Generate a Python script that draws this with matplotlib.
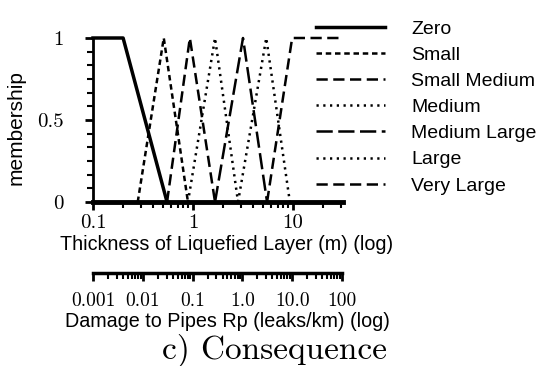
import numpy as np
import matplotlib
matplotlib.use('Agg')
import matplotlib.pyplot as plt
from matplotlib.ticker import FixedLocator, FixedFormatter, LogLocator, MultipleLocator, NullFormatter

# membership function breakpoints (thickness in m)
zero_x = [0.1, 0.2, 0.55]
zero_y = [1, 1, 0]
small_x = [0.28, 0.51, 0.89]
small_med_x = [0.55, 0.93, 1.66]
medium_x = [0.89, 1.66, 2.82]
med_large_x = [1.66, 3.16, 5.5]
large_x = [2.82, 5.4, 9.3]
very_large_x = [5.5, 9.8, 31.6]
tri_y = [0, 1, 0]
ramp_y = [0, 1, 1]

labels = ['Zero', 'Small', 'Small Medium', 'Medium', 'Medium Large', 'Large', 'Very Large']
top_ticks = [0.1, 1, 10]
top_ticklabels = ['0.1', '1', '10']
rp_ticks = [0.001, 0.01, 0.1, 1, 10, 100]
rp_ticklabels = ['0.001', '0.01', '0.1', '1.0', '10.0', '100']

serif = 'cmr10'
sans = 'Liberation Sans'

fig = plt.figure(figsize=(5.47, 3.66), dpi=100)
W, H = 547, 366

# --- main membership axes ---
ax = fig.add_axes([93 / W, 1 - 202 / H, 250 / W, 164 / H])
k = dict(color='black', clip_on=False)
ax.plot(zero_x, zero_y, lw=2.5, ls='-', label=labels[0], **k)
ax.plot(small_x, tri_y, lw=1.8, ls=(0, (2.2, 1.5)), label=labels[1], **k)
ax.plot(small_med_x, tri_y, lw=1.8, ls=(0, (4.5, 2.2)), label=labels[2], **k)
ax.plot(medium_x, tri_y, lw=1.8, ls=(0, (0.9, 1.8)), label=labels[3], **k)
ax.plot(med_large_x, tri_y, lw=1.8, ls=(0, (6.5, 2.2)), label=labels[4], **k)
ax.plot(large_x, tri_y, lw=1.8, ls=(0, (0.9, 1.8)), label=labels[5], **k)
ax.plot(very_large_x, ramp_y, lw=1.8, ls=(0, (4.5, 2.2)), label=labels[6], **k)

ax.set_xscale('log')
ax.set_xlim(0.1, 31.6)
ax.set_ylim(0, 1)
for s in ['top', 'right']:
    ax.spines[s].set_visible(False)
ax.spines['left'].set_linewidth(2)
ax.spines['bottom'].set_linewidth(3.5)

ax.xaxis.set_major_locator(FixedLocator(top_ticks))
ax.xaxis.set_major_formatter(FixedFormatter(top_ticklabels))
ax.xaxis.set_minor_locator(LogLocator(base=10, subs=np.arange(2, 10)))
ax.xaxis.set_minor_formatter(NullFormatter())
ax.set_yticks([0, 0.5, 1])
ax.set_yticklabels(['0', '0.5', '1'])
ax.yaxis.set_minor_locator(MultipleLocator(1 / 12))
ax.tick_params(axis='both', which='major', direction='out', length=6, width=2)
ax.tick_params(axis='both', which='minor', direction='out', length=4, width=1.5)
ax.tick_params(axis='x', which='major', pad=3)
ax.tick_params(axis='y', which='major', pad=15)
for t in ax.get_xticklabels() + ax.get_yticklabels():
    t.set_fontfamily(serif)
    t.set_fontsize(15)

ax.set_ylabel('membership', fontsize=15, family=sans)
ax.yaxis.set_label_coords((16 - 93) / 250, (202 - 128) / 164)
ax.yaxis.label.set_va('center')
ax.set_xlabel('Thickness of Liquefied Layer (m) (log)', fontsize=14.2, family=sans)
ax.xaxis.set_label_coords((227 - 93) / 250, (202 - 245) / 164)
ax.xaxis.label.set_va('center')

leg = ax.legend(loc='upper left', bbox_to_anchor=(316 / W, 1 - 20 / H),
                bbox_transform=fig.transFigure, frameon=False,
                prop={'family': sans, 'size': 14}, handlelength=3.55,
                handletextpad=1.35, labelspacing=0.44, borderpad=0, borderaxespad=0)

# --- second scale: damage to pipes ---
ax2 = fig.add_axes([93 / W, 1 - 273 / H, 249 / W, 0.0001])
ax2.set_xscale('log')
ax2.set_xlim(0.001, 100)
for s in ['top', 'right', 'left']:
    ax2.spines[s].set_visible(False)
ax2.spines['bottom'].set_linewidth(2.5)
ax2.set_yticks([])
ax2.xaxis.set_major_locator(FixedLocator(rp_ticks))
ax2.xaxis.set_major_formatter(FixedFormatter(rp_ticklabels))
ax2.xaxis.set_minor_locator(LogLocator(base=10, subs=np.arange(2, 10)))
ax2.xaxis.set_minor_formatter(NullFormatter())
ax2.tick_params(axis='x', which='major', direction='out', length=6, width=2, pad=8)
ax2.tick_params(axis='x', which='minor', direction='out', length=4, width=1.5)
for t in ax2.get_xticklabels():
    t.set_fontfamily(serif)
    t.set_fontsize(14)
ax2.set_xlabel('Damage to Pipes Rp (leaks/km) (log)', fontsize=14.2, family=sans)
ax2.xaxis.label.set_va('center')
ax2.xaxis.set_label_coords((227 - 93) / 249, -49 / 0.0001 / H)

fig.text(274 / W, 1 - 350 / H, 'c) Consequence', fontsize=24, family=serif,
         ha='center', va='center')

fig.savefig('out.png', dpi=100)
